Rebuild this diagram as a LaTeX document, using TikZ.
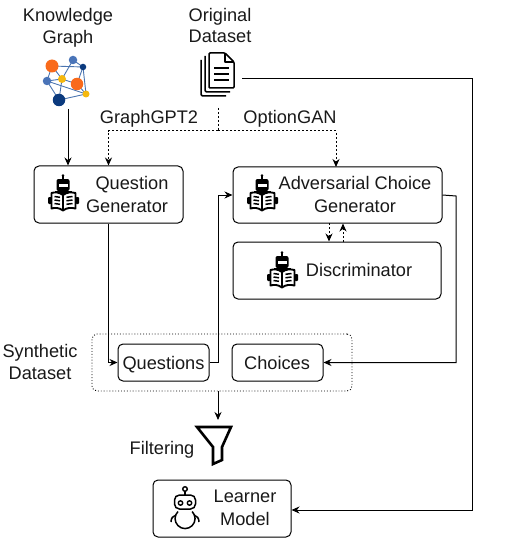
\documentclass[tikz,border=0pt]{standalone}
\usepackage{fontspec}
\setmainfont{Liberation Sans}
\usetikzlibrary{arrows.meta,backgrounds}
\definecolor{gorange}{HTML}{F96A1B}
\definecolor{gblue}{HTML}{4A74B8}
\definecolor{gnavy}{HTML}{0B3A7E}
\definecolor{gyellow}{HTML}{F5B80F}
\definecolor{gedge}{HTML}{4A74B0}
\tikzset{
  x=1pt,y=-1pt,
  box/.style={draw,rounded corners=5pt,line width=1pt,inner sep=0pt,fill=white},
  lbl/.style={inner sep=0pt,anchor=base,align=center,font=\fontsize{18.2}{22}\selectfont,text=black!90},
  arr/.style={-{Stealth[length=8pt,width=7pt]},line width=1pt},
  dasharr/.style={arr,dash pattern=on 2pt off 2pt},
  dashln/.style={line width=1pt,dash pattern=on 2pt off 2pt},
  gn/.style={circle,inner sep=0pt,fill=#1},
  gline/.style={gedge,line width=0.9pt},
  bookrobot/.pic={
    \draw[line width=1.2pt] (0,-17) -- (0,-12);
    \fill (0,-17.5) circle (1.3);
    \fill[rounded corners=2pt] (-6.5,-14) rectangle (6.5,-2);
    \fill[white] (-4.5,-9.5) rectangle (4.5,-6.5);
    \fill (-8.5,-2) rectangle (8.5,0.5);
    \draw[line width=1.9pt,fill=white,line join=round] (0,2) .. controls (-4,-1) and (-8,-1) .. (-11.5,0) -- (-11.5,15.5)
      .. controls (-8,14.5) and (-4,14.5) .. (0,17.5) .. controls (4,14.5) and (8,14.5) .. (12.5,15.5) -- (12.5,0)
      .. controls (8,-1) and (4,-1) .. (0,2) -- (0,17.5);
    \fill[rounded corners=1pt] (-15,4) rectangle (-11.5,11);
    \fill[rounded corners=1pt] (12.5,4) rectangle (16,11);
    \foreach \yy in {3.5,7,10.5}{
      \draw[line width=1.5pt] (-8.5,\yy) -- (-3,\yy+0.8);
      \draw[line width=1.5pt] (9.5,\yy) -- (3.5,\yy+0.8);
    }
  },
}
\begin{document}
\begin{tikzpicture}
\useasboundingbox (0,0) rectangle (530,540);
% graph icon
\node[gn=gorange,minimum size=13pt] (g1) at (52,66) {};
\node[gn=gblue,minimum size=8.5pt] (g2) at (73,60) {};
\node[gn=gnavy,minimum size=6.5pt] (g3) at (83,67) {};
\node[gn=gyellow,minimum size=8pt] (g4) at (62,79) {};
\node[gn=gorange,minimum size=12.5pt] (g5) at (77,84) {};
\node[gn=gblue,minimum size=8.5pt] (g6) at (47,81) {};
\node[gn=gyellow,minimum size=7pt] (g7) at (86,94) {};
\node[gn=gnavy,minimum size=12.5pt] (g8) at (59,100) {};
\begin{scope}[on background layer]
\foreach \a/\b in {g1/g3,g1/g4,g1/g6,g2/g3,g2/g4,g3/g5,g3/g7,g4/g5,g4/g8,g6/g4,g6/g8,g6/g7,g8/g7,g5/g7}
  \draw[gline] (\a.center) -- (\b.center);
\end{scope}
% document icon
\draw[line width=1.5pt,rounded corners=1.5pt] (201,60) -- (201,96) -- (226,96);
\draw[line width=1.5pt,rounded corners=1.5pt] (205,56) -- (205,92) -- (230,92);
\draw[line width=1.5pt,fill=white,rounded corners=1pt,line join=round] (209,53) -- (225,53) -- (234,62) -- (234,88) -- (209,88) -- cycle;
\draw[line width=1.3pt,line join=round] (225,53) -- (225,62) -- (234,62);
\foreach \yy in {68,74,80}
  \draw[line width=1.4pt] (214,\yy) -- (229,\yy);
\coordinate (docout) at (242,79);
% boxes
\node[box,minimum width=149pt,minimum height=57pt] (qg) at (108.5,194.5) {};
\node[box,minimum width=209pt,minimum height=56pt] (acg) at (337.5,195) {};
\node[box,minimum width=208pt,minimum height=57pt] (disc) at (337,270.5) {};
\node[draw,rounded corners=5pt,line width=0.9pt,dotted,minimum width=260pt,minimum height=57pt] (syn) at (222,362.5) {};
\node[box,minimum width=91pt,minimum height=37pt] (q) at (163.5,362.5) {};
\node[box,minimum width=91pt,minimum height=37pt] (c) at (277.5,362.5) {};
\node[box,minimum width=138pt,minimum height=57pt] (lm) at (222,508.5) {};
% labels
\node[lbl] (t1) at (68,22) {Knowledge};
\node[lbl] (t2) at (68,44) {Graph};
\node[lbl] (t3) at (220,22) {Original};
\node[lbl] (t4) at (220,43) {Dataset};
\node[lbl] (t5) at (149,124) {GraphGPT2};
\node[lbl] (t6) at (290,124) {OptionGAN};
\node[lbl] (t7) at (132,189) {Question};
\node[lbl] (t8) at (127,212) {Generator};
\node[lbl] (t9) at (355,189) {Adversarial Choice};
\node[lbl] (t10) at (355,212) {Generator};
\node[lbl] (t11) at (359,276) {Discriminator};
\node[lbl] (t12) at (163.5,369) {Questions};
\node[lbl] (t13) at (277,369) {Choices};
\node[lbl] (t14) at (40,357) {Synthetic};
\node[lbl] (t15) at (40,379) {Dataset};
\node[lbl] (t16) at (162,454) {Filtering};
\node[lbl] (t17) at (245,502) {Learner};
\node[lbl] (t18) at (245,525) {Model};
% robots
\pic at (63,193) {bookrobot};
\pic at (262,193) {bookrobot};
\pic at (282,270) {bookrobot};
% learner robot
\draw[line width=1.4pt] (185,489) circle (2.3);
\draw[line width=1.4pt] (185,491.3) -- (185,495);
\draw[line width=1.5pt,rounded corners=5pt] (174.5,495) rectangle (195.5,509);
\draw[line width=1.4pt] (180.5,503) circle (2.2);
\draw[line width=1.4pt] (189.5,503) circle (2.2);
\draw[line width=1.5pt] (178,511.5) arc[start angle=225,end angle=-45,radius=10];
\draw[line width=1.5pt] (171,522) .. controls (171,518) and (173,516) .. (176,515);
\draw[line width=1.5pt] (199,522) .. controls (199,518) and (197,516) .. (194,515);
% funnel
\draw[line width=2.6pt,line join=miter] (197,427) -- (231,427) -- (222,447) -- (222,460) -- (213,464) -- (213,447) -- cycle;
% connectors
\coordinate (kgout) at (68,109);
\draw[arr] (kgout) -- (kgout |- qg.north);
\coordinate (split) at (218,108);
\coordinate (splitm) at (218,131);
\draw[dashln] (split) -- (splitm);
\draw[dasharr] (splitm) -| (qg.north);
\draw[dasharr] (splitm) -| (336,167);
\draw[arr] (qg.south) |- (q.west);
\coordinate (qbus) at (218,362.5);
\draw[arr] (q.east) -- (qbus) |- (acg.west);
\coordinate (cbus) at (456,196);
\draw[arr] (acg.east) -- (cbus) |- (c.east);
\coordinate (d1) at (329,223);
\coordinate (d2) at (343,242);
\draw[dasharr] (d1) -- (d1 |- disc.north);
\draw[dasharr] (d2) -- (d2 |- acg.south);
\coordinate (sout) at (218,391);
\draw[arr] (sout) -- (218,420);
\coordinate (dbus) at (472,79);
\draw[arr] (docout) -- (dbus) |- (lm.east |- 0,510);
\end{tikzpicture}
\end{document}
